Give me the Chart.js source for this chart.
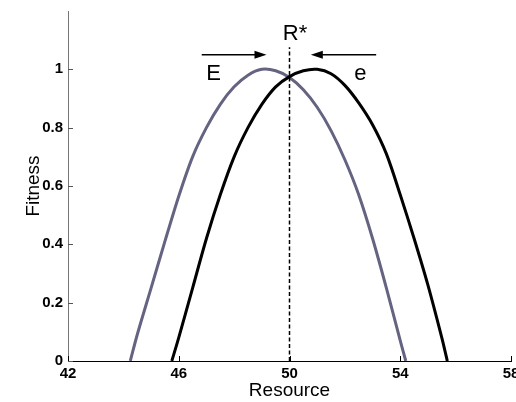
<!DOCTYPE html>
<html><head><meta charset="utf-8">
<script src="https://cdn.jsdelivr.net/npm/chart.js@4/dist/chart.umd.min.js"></script>
<style>
html,body{margin:0;padding:0;background:#fff;overflow:hidden;}
#wrap{width:516px;height:402px;position:relative;}
</style></head>
<body><div id="wrap"><canvas id="c" width="516" height="402"></canvas></div>
<script>
// Grey curve (E)
const greyX = [44.25, 44.5, 45, 45.5, 46, 46.5, 47, 47.5, 48, 48.5, 49, 49.5, 50, 50.5, 51, 51.5, 52, 52.5, 53, 53.5, 54, 54.2];
const greyY = [0, 0.09, 0.25, 0.41, 0.565, 0.70, 0.80, 0.88, 0.94, 0.98, 1.0, 0.995, 0.972, 0.93, 0.87, 0.79, 0.69, 0.57, 0.42, 0.25, 0.07, 0];
// Black curve (e)
const blackX = [45.75, 46, 46.5, 47, 47.5, 48, 48.5, 49, 49.5, 50, 50.5, 51, 51.5, 52, 52.5, 53, 53.5, 54, 54.5, 55, 55.5, 55.7];
const blackY = [0, 0.08, 0.25, 0.42, 0.57, 0.70, 0.80, 0.88, 0.94, 0.975, 0.995, 1.0, 0.985, 0.945, 0.885, 0.81, 0.71, 0.57, 0.42, 0.26, 0.08, 0];
// R* dashed line
const rStarX = [50, 50];
const rStarY = [0, 1.076];
// axis ticks
const xTicks = [42, 46, 50, 54, 58];
const yTicks = [0, 0.2, 0.4, 0.6, 0.8, 1];

const pts = (xs, ys) => xs.map((x, i) => ({x, y: ys[i]}));

// annotations (arrows and labels), in data coordinates
const arrows = [
  {x0: 46.83, x1: 49.17, y: 1.05},
  {x0: 53.13, x1: 50.77, y: 1.05}
];
const labels = [
  {text: 'E', x: 47.26, y: 0.962, size: 22},
  {text: 'e', x: 52.56, y: 0.962, size: 22},
  {text: 'R*', x: 50.2, y: 1.099, size: 22}
];

const annot = {
  id: 'annot',
  afterDatasetsDraw(chart) {
    const ctx = chart.ctx, xs = chart.scales.x, ys = chart.scales.y;
    ctx.save();
    // inner ticks
    ctx.lineWidth = 1;
    ctx.strokeStyle = '#000';
    const bottom = ys.getPixelForValue(0);
    xTicks.forEach(v => {
      const px = Math.round(xs.getPixelForValue(v)) + 0.5;
      ctx.beginPath(); ctx.moveTo(px, bottom); ctx.lineTo(px, bottom - 5); ctx.stroke();
    });
    ctx.strokeStyle = '#555';
    const left = xs.getPixelForValue(42);
    yTicks.forEach(v => {
      const py = Math.round(ys.getPixelForValue(v)) + 0.5;
      ctx.beginPath(); ctx.moveTo(left, py); ctx.lineTo(left + 5, py); ctx.stroke();
    });
    // arrows
    ctx.strokeStyle = '#000'; ctx.fillStyle = '#000'; ctx.lineWidth = 1.5;
    arrows.forEach(a => {
      const p0 = xs.getPixelForValue(a.x0), p1 = xs.getPixelForValue(a.x1), py = ys.getPixelForValue(a.y);
      const dir = Math.sign(p1 - p0);
      ctx.beginPath(); ctx.moveTo(p0, py); ctx.lineTo(p1 - dir * 8, py); ctx.stroke();
      ctx.beginPath(); ctx.moveTo(p1, py); ctx.lineTo(p1 - dir * 12, py - 4); ctx.lineTo(p1 - dir * 12, py + 4); ctx.closePath(); ctx.fill();
    });
    // labels
    ctx.textAlign = 'center'; ctx.textBaseline = 'alphabetic';
    labels.forEach(l => {
      ctx.font = l.size + 'px "Liberation Sans", Arial, sans-serif';
      ctx.fillText(l.text, xs.getPixelForValue(l.x), ys.getPixelForValue(l.y));
    });
    ctx.restore();
  }
};

const tickFont = {family: '"Liberation Sans", Arial, sans-serif', size: 15, weight: 'bold'};

new Chart(document.getElementById('c'), {
  type: 'scatter',
  data: {
    datasets: [
      {data: pts(greyX, greyY), showLine: true, borderColor: '#646482', borderWidth: 3, pointRadius: 0, tension: 0.3, order: 2},
      {data: pts(blackX, blackY), showLine: true, borderColor: '#000', borderWidth: 3, pointRadius: 0, tension: 0.3, order: 1},
      {data: pts(rStarX, rStarY), showLine: true, borderColor: '#000', borderWidth: 1.5, borderDash: [4, 2.5], pointRadius: 0, order: 0}
    ]
  },
  options: {
    responsive: false,
    animation: false,
    events: [],
    layout: {padding: {top: 11, right: 5, left: 0, bottom: 0}},
    plugins: {legend: {display: false}, tooltip: {enabled: false}},
    scales: {
      x: {
        type: 'linear', min: 42, max: 58,
        afterBuildTicks: s => { s.ticks = xTicks.map(v => ({value: v})); },
        afterFit: s => { s.height = 41; s.paddingLeft = 0; s.paddingRight = 0; },
        ticks: {font: tickFont, color: '#000', padding: 4, maxRotation: 0, autoSkip: false},
        grid: {display: false, drawTicks: false},
        border: {color: '#000', width: 1},
        title: {display: true, text: 'Resource', font: {family: '"Liberation Sans", Arial, sans-serif', size: 19}, color: '#000', padding: {top: 4, bottom: 0}}
      },
      y: {
        type: 'linear', min: 0, max: 1.2,
        afterBuildTicks: s => { s.ticks = yTicks.map(v => ({value: v})); },
        afterFit: s => { s.width = 68; s.paddingTop = 0; s.paddingBottom = 0; },
        ticks: {font: tickFont, color: '#000', padding: 5, callback: v => String(Math.round(v * 10) / 10)},
        grid: {display: false, drawTicks: false},
        border: {color: '#777', width: 1},
        title: {display: true, text: 'Fitness', font: {family: '"Liberation Sans", Arial, sans-serif', size: 19}, color: '#000', padding: {top: 22, bottom: 0}}
      }
    }
  },
  plugins: [annot]
});
</script>
</body></html>
